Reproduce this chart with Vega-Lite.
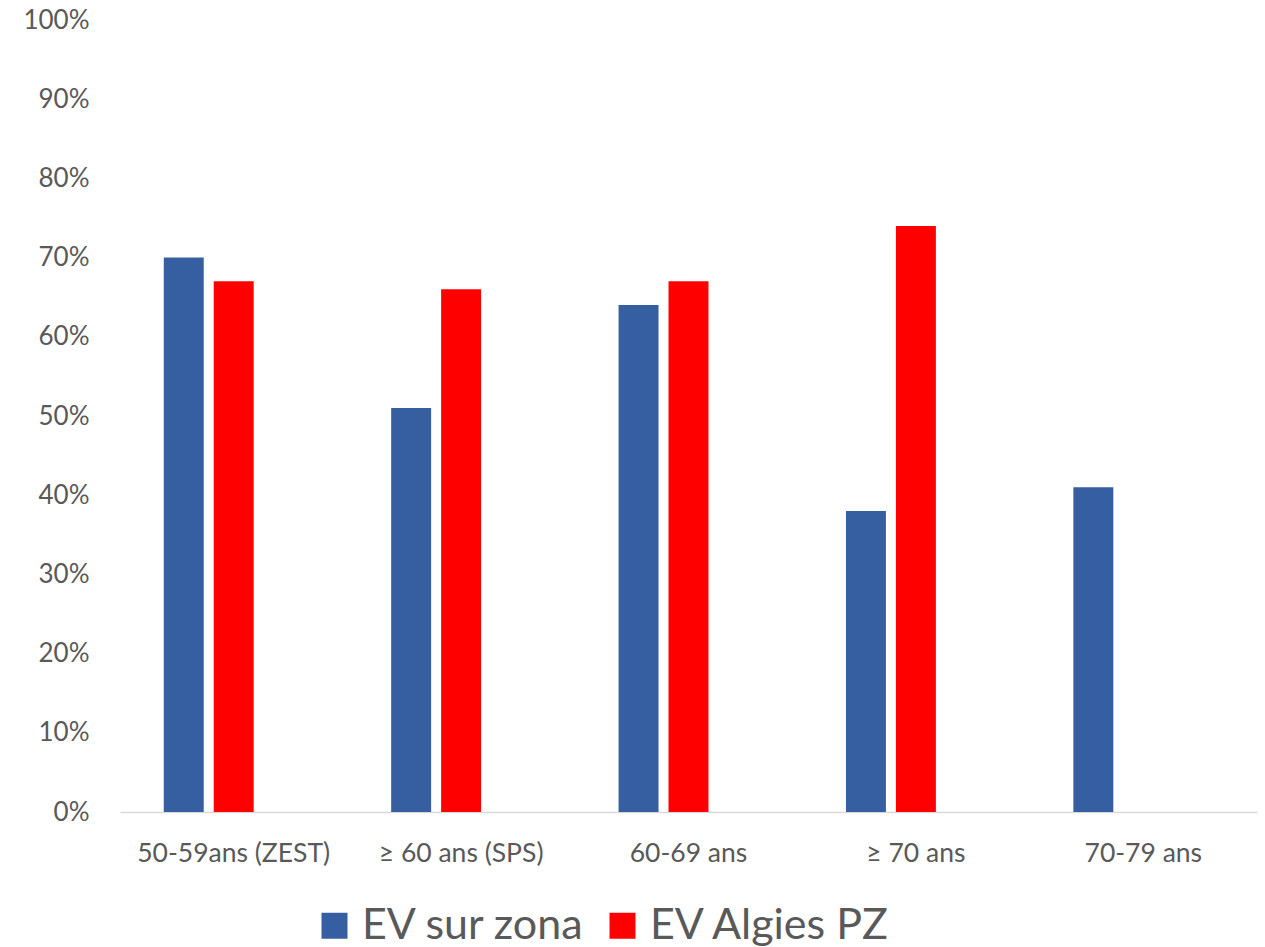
{
  "$schema": "https://vega.github.io/schema/vega-lite/v6.json",
  "autosize": "none",
  "width": 1137,
  "height": 792,
  "padding": {"left": 120, "top": 20, "right": 8, "bottom": 135},
  "background": "white",
  "config": {
    "view": {"stroke": null},
    "font": "Lato"
  },
  "data": {
    "values": [
      {"groupe": "50-59ans (ZEST)", "serie": "EV sur zona", "valeur": 0.70},
      {"groupe": "50-59ans (ZEST)", "serie": "EV Algies PZ", "valeur": 0.67},
      {"groupe": "≥ 60 ans (SPS)", "serie": "EV sur zona", "valeur": 0.51},
      {"groupe": "≥ 60 ans (SPS)", "serie": "EV Algies PZ", "valeur": 0.66},
      {"groupe": "60-69 ans", "serie": "EV sur zona", "valeur": 0.64},
      {"groupe": "60-69 ans", "serie": "EV Algies PZ", "valeur": 0.67},
      {"groupe": "≥ 70 ans", "serie": "EV sur zona", "valeur": 0.38},
      {"groupe": "≥ 70 ans", "serie": "EV Algies PZ", "valeur": 0.74},
      {"groupe": "70-79 ans", "serie": "EV sur zona", "valeur": 0.41}
    ]
  },
  "mark": {"type": "bar"},
  "encoding": {
    "x": {
      "field": "groupe",
      "type": "nominal",
      "sort": null,
      "scale": {"paddingInner": 0.385, "paddingOuter": 0.1925},
      "axis": {
        "title": null,
        "labelAngle": 0,
        "labelFontSize": 26.5,
        "labelColor": "#595959",
        "labelPadding": 28,
        "labelLimit": 400,
        "ticks": false,
        "domainColor": "#D9D9D9",
        "domainWidth": 1.5,
        "grid": false
      }
    },
    "xOffset": {
      "field": "serie",
      "type": "nominal",
      "scale": {"domain": ["EV sur zona", "EV Algies PZ", "vide"], "paddingInner": 0.2, "paddingOuter": 0}
    },
    "y": {
      "field": "valeur",
      "type": "quantitative",
      "scale": {"domain": [0, 1], "nice": false},
      "axis": {
        "title": null,
        "format": ".0%",
        "values": [0, 0.1, 0.2, 0.3, 0.4, 0.5, 0.6, 0.7, 0.8, 0.9, 1],
        "labelFontSize": 26,
        "labelColor": "#595959",
        "labelPadding": 31,
        "ticks": false,
        "domain": false,
        "grid": false
      }
    },
    "color": {
      "field": "serie",
      "type": "nominal",
      "scale": {"domain": ["EV sur zona", "EV Algies PZ"], "range": ["#365FA2", "#FF0000"]},
      "legend": {
        "title": null,
        "orient": "none",
        "direction": "horizontal",
        "legendX": 193,
        "legendY": 884,
        "symbolType": "square",
        "symbolSize": 676,
        "symbolStrokeWidth": 0,
        "labelFontSize": 43,
        "labelColor": "#595959",
        "labelOffset": 6,
        "columnPadding": 16,
        "labelLimit": 400
      }
    }
  }
}
